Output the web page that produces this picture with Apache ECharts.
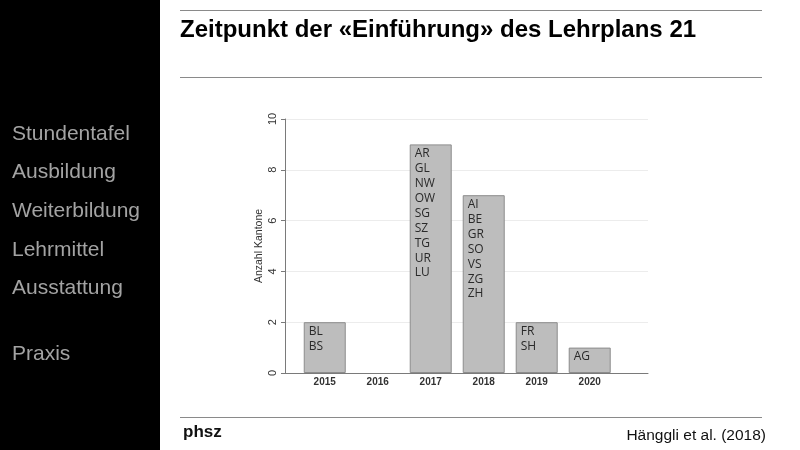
<!DOCTYPE html>
<html>
<head>
<meta charset="utf-8">
<script src="https://cdn.jsdelivr.net/npm/echarts@6/dist/echarts.min.js"></script>
<style>html,body{margin:0;padding:0;background:#fff;}#c{width:800px;height:450px;}</style>
</head>
<body>
<div id="c"></div>
<script>
const years = [2015, 2016, 2017, 2018, 2019, 2020];
const counts = [2, 0, 9, 7, 2, 1];
const cantons = [
  ['BL', 'BS'],
  [],
  ['AR', 'GL', 'NW', 'OW', 'SG', 'SZ', 'TG', 'UR', 'LU'],
  ['AI', 'BE', 'GR', 'SO', 'VS', 'ZG', 'ZH'],
  ['FR', 'SH'],
  ['AG']
];
const yTicks = [0, 2, 4, 6, 8, 10];
const menuItems = ['Stundentafel', 'Ausbildung', 'Weiterbildung', 'Lehrmittel', 'Ausstattung', '', 'Praxis'];
const titleText = 'Zeitpunkt der «Einführung» des Lehrplans 21';
const yAxisTitle = 'Anzahl Kantone';
const footerLeft = 'phsz';
const footerRight = 'Hänggli et al. (2018)';

const chart = echarts.init(document.getElementById('c'), null, {renderer: 'canvas'});

const menuY = [134, 172, 211, 250, 288, null, 354];
const graphics = [
  {type: 'rect', shape: {x: 0, y: 0, width: 160, height: 450}, style: {fill: '#000'}, z: -10},
  {type: 'line', shape: {x1: 180, y1: 10.5, x2: 762, y2: 10.5}, style: {stroke: '#8a8a8a', lineWidth: 1}},
  {type: 'line', shape: {x1: 180, y1: 77.5, x2: 762, y2: 77.5}, style: {stroke: '#8a8a8a', lineWidth: 1}},
  {type: 'line', shape: {x1: 180, y1: 417.5, x2: 762, y2: 417.5}, style: {stroke: '#8a8a8a', lineWidth: 1}},
  {type: 'text', x: 180, y: 30, style: {text: titleText, font: 'bold 24px "Liberation Sans", Arial, sans-serif', fill: '#000', textVerticalAlign: 'middle'}},
  {type: 'text', x: 183, y: 432, style: {text: footerLeft, font: 'bold 17px "Liberation Sans", Arial, sans-serif', fill: '#111', textVerticalAlign: 'middle'}},
  {type: 'text', x: 766, y: 436, style: {text: footerRight, font: '15.5px "Liberation Sans", Arial, sans-serif', fill: '#111', textAlign: 'right', textVerticalAlign: 'middle'}}
];
menuItems.forEach((m, i) => {
  if (!m) return;
  graphics.push({type: 'text', x: 12, y: menuY[i], style: {text: m, font: '21px "Liberation Sans", Arial, sans-serif', fill: '#a3a3a3', textVerticalAlign: 'middle'}});
});

const option = {
  backgroundColor: '#fff',
  animation: false,
  graphic: graphics,
  grid: {left: 285, top: 119, right: 152, bottom: 77, containLabel: false},
  xAxis: {
    type: 'value',
    min: 2014.25,
    max: 2021.1,
    axisLine: {show: true, lineStyle: {color: '#7a7a7a', width: 1}},
    axisTick: {show: false},
    splitLine: {show: false},
    axisLabel: {
      customValues: years,
      color: '#333',
      fontSize: 10,
      fontWeight: 'bold',
      fontFamily: '"Liberation Sans", Arial, sans-serif',
      margin: 4,
      formatter: v => String(v)
    }
  },
  yAxis: {
    type: 'value',
    min: 0,
    max: 10,
    interval: 2,
    name: yAxisTitle,
    nameLocation: 'middle',
    nameGap: 20,
    nameTextStyle: {color: '#333', fontSize: 10.5, fontFamily: '"Liberation Sans", Arial, sans-serif'},
    axisLine: {show: true, lineStyle: {color: '#7a7a7a', width: 1}},
    axisTick: {show: true, length: 4, lineStyle: {color: '#7a7a7a'}},
    splitLine: {show: true, lineStyle: {color: '#ececec', width: 1}},
    axisLabel: {
      rotate: 90,
      color: '#333',
      fontSize: 11,
      fontFamily: '"Liberation Sans", Arial, sans-serif',
      margin: 7
    }
  },
  series: [{
    type: 'bar',
    barWidth: 42,
    data: years.map((y, i) => ({
      value: [y, counts[i]],
      itemStyle: counts[i] === 0 ? {borderWidth: 0} : undefined
    })),
    itemStyle: {color: '#bdbdbd', borderColor: '#8c8c8c', borderWidth: 1},
    label: {
      show: true,
      position: 'insideTopLeft',
      distance: 5,
      offset: [0, -3],
      color: '#2a2a2a',
      fontSize: 12,
      lineHeight: 14.9,
      fontFamily: '"Open Sans", sans-serif',
      formatter: p => cantons[p.dataIndex].join('\n')
    }
  }]
};
chart.setOption(option);
</script>
</body>
</html>
